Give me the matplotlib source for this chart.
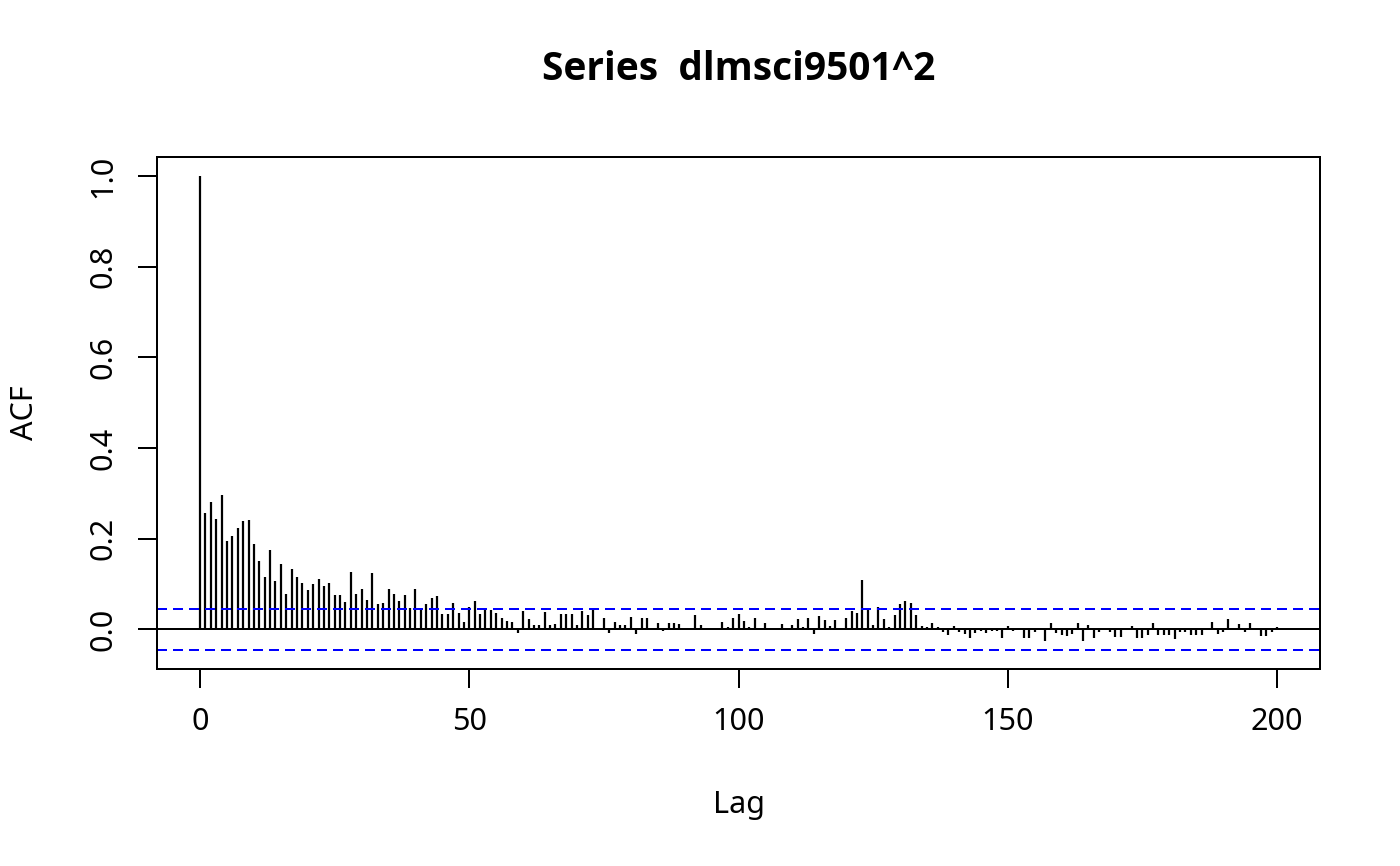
import matplotlib
matplotlib.use("Agg")
import matplotlib.pyplot as plt
import numpy as np

plt.rcParams['font.family'] = ['Noto Sans', 'DejaVu Sans']

# acf of squared returns, lags 0..200
acf_vals = [
    1.000, 0.257, 0.280, 0.244, 0.297, 0.195, 0.206, 0.223, 0.239, 0.242,
    0.188, 0.150, 0.115, 0.175, 0.107, 0.144, 0.079, 0.134, 0.116, 0.103,
    0.087, 0.100, 0.112, 0.095, 0.102, 0.075, 0.075, 0.060, 0.126, 0.079,
    0.090, 0.065, 0.124, 0.057, 0.059, 0.090, 0.078, 0.062, 0.076, 0.047,
    0.089, 0.043, 0.057, 0.070, 0.074, 0.033, 0.034, 0.058, 0.036, 0.016,
    0.049, 0.062, 0.033, 0.043, 0.042, 0.036, 0.026, 0.018, 0.017, -0.007,
    0.041, 0.022, 0.010, 0.009, 0.038, 0.010, 0.012, 0.034, 0.034, 0.034,
    0.009, 0.041, 0.031, 0.042, 0.004, 0.024, -0.007, 0.016, 0.010, 0.010,
    0.028, -0.011, 0.024, 0.024, 0.002, 0.013, -0.003, 0.013, 0.014, 0.011,
    0.002, 0.003, 0.031, 0.010, 0.003, 0.003, 0.003, 0.016, 0.005, 0.024,
    0.034, 0.019, 0.006, 0.025, 0.004, 0.013, 0.004, 0.004, 0.011, 0.003,
    0.010, 0.022, 0.006, 0.025, -0.011, 0.029, 0.020, 0.007, 0.021, 0.002,
    0.026, 0.041, 0.036, 0.109, 0.046, 0.009, 0.050, 0.023, 0.006, 0.032,
    0.057, 0.062, 0.058, 0.032, 0.007, 0.006, 0.014, 0.005, -0.006, -0.013,
    0.008, -0.006, -0.011, -0.019, -0.007, -0.003, -0.007, -0.003, -0.004, -0.019,
    0.007, -0.003, 0.002, -0.019, -0.018, -0.005, 0.003, -0.026, 0.013, -0.009,
    -0.012, -0.015, -0.010, 0.015, -0.026, 0.010, -0.018, -0.005, 0.002, -0.006,
    -0.016, -0.016, 0.001, 0.008, -0.019, -0.019, -0.013, 0.015, -0.012, -0.012,
    -0.012, -0.021, -0.005, -0.005, -0.012, -0.012, -0.013, 0.002, 0.017, -0.010,
    -0.006, 0.022, 0.002, 0.012, -0.006, 0.015, 0.002, -0.014, -0.015, -0.006,
    0.005,
]
lags = np.arange(len(acf_vals))
ci = 0.0456

xticks = [0, 50, 100, 150, 200]
yticks = [0.0, 0.2, 0.4, 0.6, 0.8, 1.0]

W, H = 1400, 866
fig = plt.figure(figsize=(W / 100, H / 100), dpi=100)
ax = fig.add_axes([157 / W, 1 - 669 / H, (1320 - 157) / W, (669 - 157) / H])

lw = 1.44
ax.vlines(lags, 0, acf_vals, color='black', lw=1.6)
ax.axhline(0, color='black', lw=lw)
ax.axhline(ci, color='blue', lw=lw, ls=(0, (5, 3)))
ax.axhline(-ci, color='blue', lw=lw, ls=(0, (5, 3)))

ax.set_xlim(-8, 208)
ax.set_ylim(-0.0874, 1.0418)
ax.set_xticks(xticks)
ax.set_xticklabels([str(t) for t in xticks])
ax.set_yticks(yticks)
ax.set_yticklabels(['%.1f' % t for t in yticks], rotation=90, va='center')

for s in ax.spines.values():
    s.set_linewidth(lw)
ax.tick_params(length=13.7, width=lw, labelsize=22, pad=14)

fig.text(738.5 / W, 1 - 70 / H, 'Series  dlmsci9501^2', ha='center', va='center',
         fontsize=28, fontweight='bold', family=['Open Sans', 'Lato', 'DejaVu Sans'])
fig.text(25 / W, 1 - 413 / H, 'ACF', rotation=90, ha='center', va='center', fontsize=22)
fig.text(738.5 / W, 1 - 805 / H, 'Lag', ha='center', va='center', fontsize=22)

fig.savefig('out.png', dpi=100)
